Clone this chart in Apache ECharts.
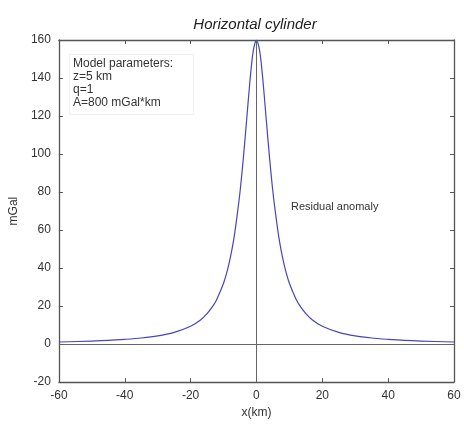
<!DOCTYPE html>
<html>
<head>
<meta charset="utf-8">
<script src="https://cdn.jsdelivr.net/npm/echarts@6/dist/echarts.min.js"></script>
<style>
  html, body { margin: 0; padding: 0; background: #fff; }
  #main { width: 464px; height: 424px; }
</style>
</head>
<body>
<div id="main"></div>
<script>
// values
const xKm = [-60, -50, -45, -40, -35, -30, -25, -20, -17, -15, -13, -12, -10, -9, -8, -7, -6, -5, -4, -3, -2, -1, 0,
             1, 2, 3, 4, 5, 6, 7, 8, 9, 10, 12, 13, 15, 17, 20, 25, 30, 35, 40, 45, 50, 60];
const anomaly = [1.1, 1.6, 1.95, 2.5, 3.2, 4.3, 6.2, 9.4, 12.7, 16, 20.6, 23.7, 32, 37.7, 45, 54, 66, 80, 97.6, 117.6, 138, 154, 160,
                 154, 138, 117.6, 97.6, 80, 66, 54, 45, 37.7, 32, 23.7, 20.6, 16, 12.7, 9.4, 6.2, 4.3, 3.2, 2.5, 1.95, 1.6, 1.1];
const xTicks = [-60, -40, -20, 0, 20, 40, 60];
const yTicks = [-20, 0, 20, 40, 60, 80, 100, 120, 140, 160];

const chart = echarts.init(document.getElementById('main'));

const points = xKm.map((x, i) => [x, anomaly[i]]);
const axisColor = '#555';
const txt = '#333';
const font = 'Liberation Sans';

function axisBase(show) {
    return {
        type: 'value',
        axisLine: { show: true, onZero: false, lineStyle: { color: axisColor, width: 1.3 } },
        axisTick: { show: true, inside: true, length: 4, lineStyle: { color: axisColor } },
        axisLabel: { show: show, color: txt, fontFamily: font, fontSize: 12 },
        splitLine: { show: false }
    };
}

const option = {
    backgroundColor: '#fff',
    animation: false,
    title: {
        text: 'Horizontal cylinder',
        left: 250,
        textAlign: 'center',
        top: 12,
        textStyle: { fontFamily: font, fontStyle: 'italic', fontWeight: 'normal', fontSize: 15, color: '#222' }
    },
    grid: { left: 50, right: 10, top: 40, bottom: 35 },
    xAxis: [
        Object.assign(axisBase(true), {
            min: -60, max: 60, interval: 20, position: 'bottom',
            name: 'x(km)', nameLocation: 'middle', nameGap: 20,
            nameTextStyle: { color: txt, fontFamily: font, fontSize: 12 }
        }),
        Object.assign(axisBase(false), { min: -60, max: 60, interval: 20, position: 'top' })
    ],
    yAxis: [
        Object.assign(axisBase(true), {
            min: -20, max: 160, interval: 20, position: 'left',
            name: 'mGal', nameLocation: 'middle', nameGap: 32,
            nameTextStyle: { color: txt, fontFamily: font, fontSize: 12 }
        }),
        Object.assign(axisBase(false), { min: -20, max: 160, interval: 20, position: 'right' })
    ],
    graphic: [{
        type: 'rect',
        left: 67, top: 52,
        shape: { width: 124, height: 60 },
        style: { fill: 'none', stroke: '#f0f0f0', lineWidth: 1 }
    }, {
        type: 'text',
        left: 73, top: 57,
        style: {
            text: 'Model parameters:\nz=5 km\nq=1\nA=800 mGal*km',
            fill: txt, font: '12px "Liberation Sans"', lineHeight: 13
        }
    }, {
        type: 'text',
        left: 291, top: 201,
        style: { text: 'Residual anomaly', fill: txt, font: '11px "Liberation Sans"' }
    }],
    series: [{
        type: 'line',
        data: points,
        smooth: 0.3,
        showSymbol: false,
        lineStyle: { color: '#4545c0', width: 1.2 },
        markLine: {
            silent: true,
            symbol: 'none',
            label: { show: false },
            lineStyle: { color: '#666', width: 1, type: 'solid' },
            data: [{ yAxis: 0 }, { xAxis: 0 }]
        }
    }]
};

chart.setOption(option);
</script>
</body>
</html>
